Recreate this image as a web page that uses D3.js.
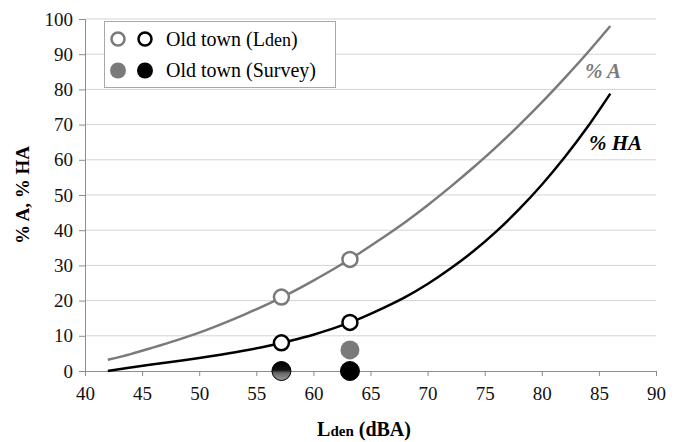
<!DOCTYPE html>
<html>
<head>
<meta charset="utf-8">
<script src="https://cdn.jsdelivr.net/npm/d3@7"></script>
<style>
  body { margin: 0; background: #fff; }
  svg text { font-family: "Liberation Serif", "Times New Roman", Times, "DejaVu Serif", serif; }
</style>
</head>
<body>
<div id="chart"></div>
<script>
// Dose-response curves (% annoyed / % highly annoyed vs Lden) with old town points

const W = 678, H = 442
const ML = 85, MR = 22, MT = 19, MB = 71 // plot box margins

// ---- data -----------------------------------------------------------------
const lden      = [42, 44, 46, 48, 50, 52, 54, 56, 58, 60, 62, 64,
                   66, 68, 70, 72, 74, 76, 78, 80, 82, 84, 86]
const pctA      = [3.2, 4.8, 6.7, 8.7, 10.9, 13.4, 16.1, 19.0, 22.2, 25.7, 29.4, 33.4,
                   37.7, 42.2, 47.1, 52.3, 57.8, 63.6, 69.8, 76.3, 83.2, 90.4, 98.0]
const pctHA     = [0.0, 1.0, 1.9, 2.8, 3.7, 4.7, 5.8, 7.1, 8.6, 10.3, 12.4, 14.8,
                   17.7, 20.9, 24.7, 29.1, 34.0, 39.6, 45.9, 52.9, 60.7, 69.3, 78.8]
const siteLden  = [57.2, 63.2]   // old town measurement points
const calcA     = [21, 31.7]     // % A from Lden
const calcHA    = [8, 13.8]      // % HA from Lden
const surveyA   = [0, 6]         // % A from survey
const surveyHA  = [0, 0]         // % HA from survey
const xTicks    = [40, 45, 50, 55, 60, 65, 70, 75, 80, 85, 90]
const yTicks    = [0, 10, 20, 30, 40, 50, 60, 70, 80, 90, 100]
const legendLbl = ['Old town (L', 'den', ')']
const surveyLbl = 'Old town (Survey)'

const SERIF = '"Liberation Serif", "Times New Roman", Times, "DejaVu Serif", serif'
const GRAY = '#7a7a7a'
const AXC  = '#8c8c8c'

const x = d3.scaleLinear([40, 90], [ML, W - MR])
const y = d3.scaleLinear([0, 100], [H - MB, MT])

const svg = d3.select('#chart').append('svg').attr('width', W).attr('height', H)
  .style('display', 'block')

const defs = svg.append('defs')
const grad = defs.append('linearGradient').attr('id', 'mix')
  .attr('x1', 0).attr('y1', 0).attr('x2', 0).attr('y2', 1)
grad.append('stop').attr('offset', '0%').attr('stop-color', '#000')
grad.append('stop').attr('offset', '45%').attr('stop-color', '#111')
grad.append('stop').attr('offset', '60%').attr('stop-color', '#666')
grad.append('stop').attr('offset', '100%').attr('stop-color', '#9a9a9a')

// gridlines
svg.append('g').selectAll('line').data(yTicks.filter(d => d > 0)).join('line')
  .attr('x1', x(40)).attr('x2', x(90))
  .attr('y1', d => y(d)).attr('y2', d => y(d))
  .attr('stroke', '#d4d4d4').attr('stroke-width', 1)

// axes
const yAxis = svg.append('g').attr('transform', `translate(${x(40)},0)`)
  .call(d3.axisLeft(y).tickValues(yTicks).tickSize(6).tickPadding(6))
const xAxis = svg.append('g').attr('transform', `translate(0,${y(0)})`)
  .call(d3.axisBottom(x).tickValues(xTicks).tickSize(5).tickPadding(11))
for (const ax of [xAxis, yAxis]) {
  ax.attr('font-family', null).attr('font-size', null)
  ax.select('.domain').attr('stroke', AXC)
  ax.selectAll('.tick line').attr('stroke', AXC)
  ax.selectAll('text').style('font-family', SERIF).style('font-size', '19px')
    .attr('fill', '#111')
}

// axis titles
svg.append('text')
  .attr('transform', `translate(29,${(y(0) + y(100)) / 2}) rotate(-90)`)
  .attr('text-anchor', 'middle').attr('font-weight', 'bold').style('font-size', '19px')
  .text('% A, % HA')
const xt = svg.append('text').attr('x', 364).attr('y', 436)
  .attr('text-anchor', 'middle').attr('font-weight', 'bold').style('font-size', '20px')
xt.append('tspan').text('L')
xt.append('tspan').style('font-size', '15px').text('den')
xt.append('tspan').text(' (dBA)')

// curves
const line = d3.line().curve(d3.curveMonotoneX)
svg.append('path').attr('d', line(lden.map((l, i) => [x(l), y(pctA[i])])))
  .attr('fill', 'none').attr('stroke', GRAY).attr('stroke-width', 2.5)
svg.append('path').attr('d', line(lden.map((l, i) => [x(l), y(pctHA[i])])))
  .attr('fill', 'none').attr('stroke', '#000').attr('stroke-width', 2.5)

// curve labels
svg.append('text').attr('x', 585).attr('y', 78)
  .attr('font-weight', 'bold').attr('font-style', 'italic').style('font-size', '21px')
  .attr('fill', GRAY).text('% A')
svg.append('text').attr('x', 589).attr('y', 150)
  .attr('font-weight', 'bold').attr('font-style', 'italic').style('font-size', '21px')
  .attr('fill', '#000').text('% HA')

// survey points (filled)
svg.append('g').selectAll('circle').data(surveyA).join('circle')
  .attr('cx', (d, i) => x(siteLden[i])).attr('cy', d => y(d)).attr('r', 9.5)
  .attr('fill', GRAY)
svg.append('g').selectAll('circle').data(surveyHA).join('circle')
  .attr('cx', (d, i) => x(siteLden[i])).attr('cy', d => y(d)).attr('r', 9.5)
  .attr('fill', (d, i) => surveyA[i] === d ? 'url(#mix)' : '#000')
  .attr('stroke', '#000').attr('stroke-width', 1)

// calculated points (open)
svg.append('g').selectAll('circle').data(calcA).join('circle')
  .attr('cx', (d, i) => x(siteLden[i])).attr('cy', d => y(d)).attr('r', 7.5)
  .attr('fill', '#fff').attr('stroke', GRAY).attr('stroke-width', 2.5)
svg.append('g').selectAll('circle').data(calcHA).join('circle')
  .attr('cx', (d, i) => x(siteLden[i])).attr('cy', d => y(d)).attr('r', 7.5)
  .attr('fill', '#fff').attr('stroke', '#000').attr('stroke-width', 2.5)

// legend
const lg = svg.append('g')
lg.append('rect').attr('x', 104.5).attr('y', 21.5).attr('width', 231).attr('height', 66)
  .attr('fill', '#fff').attr('stroke', '#a8a8a8')
lg.append('circle').attr('cx', 118).attr('cy', 39).attr('r', 6.5)
  .attr('fill', '#fff').attr('stroke', GRAY).attr('stroke-width', 2.5)
lg.append('circle').attr('cx', 145).attr('cy', 39).attr('r', 6.5)
  .attr('fill', '#fff').attr('stroke', '#000').attr('stroke-width', 2.5)
lg.append('circle').attr('cx', 118).attr('cy', 70.5).attr('r', 8).attr('fill', GRAY)
lg.append('circle').attr('cx', 145).attr('cy', 70.5).attr('r', 8).attr('fill', '#000')
const l1 = lg.append('text').attr('x', 166).attr('y', 46).style('font-size', '20px')
l1.append('tspan').text(legendLbl[0])
l1.append('tspan').style('font-size', '18px').text(legendLbl[1])
l1.append('tspan').text(legendLbl[2])
lg.append('text').attr('x', 166).attr('y', 77).style('font-size', '20px').text(surveyLbl)
</script>
</body>
</html>
